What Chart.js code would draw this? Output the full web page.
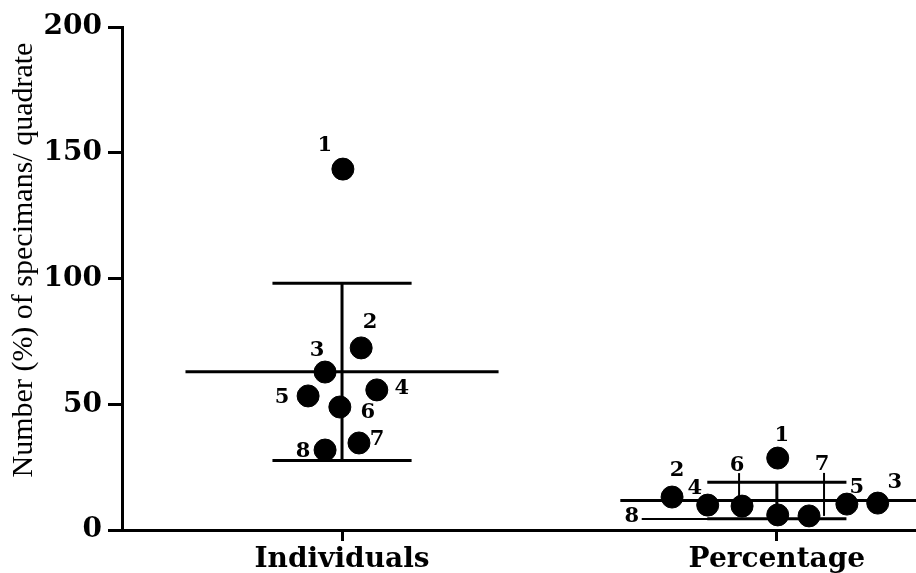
<!DOCTYPE html>
<html>
<head>
<meta charset="utf-8">
<script src="https://cdn.jsdelivr.net/npm/chart.js@4.4.1/dist/chart.umd.min.js"></script>
<style>
    html, body { margin: 0; padding: 0; background: #fff; }
    #wrap { width: 916px; height: 573px; position: relative; }
</style>
</head>
<body>
<div id="wrap"><canvas id="chart"></canvas></div>
<script>
// x categories
var categories = ['Individuals', 'Percentage'];
// the numbers written beside each dot
var pointIds = ['1', '2', '3', '4', '5', '6', '7', '8'];
// values (same order as pointIds)
var individuals = [143.5, 72.4, 62.8, 55.7, 53.3, 48.9, 34.6, 31.8];
var percentage = [28.6, 13.1, 10.7, 9.9, 10.3, 9.5, 5.6, 6.0];
var yTicks = [0, 50, 100, 150, 200];
var yTitle = 'Number (%) of specimans/ quadrate';

// sideways spread of the dots around their category (in category units)
var jitterInd = [0.002, 0.044, -0.039, 0.080, -0.078, -0.005, 0.039, -0.039];
var jitterPct = [0.002, -0.241, 0.232, -0.159, 0.161, -0.080, 0.074, 0.002];

// where each number sits relative to its dot, in px
var labelOffInd = [[-18, -24], [9, -25], [-8, -22], [25, -1], [-26, 2], [28, 6], [18, -3], [-22, 2]];
var labelOffPct = [[4, -23], [5, -27], [17, -21], [-13, -17], [10, -17], [-5, -41], [13, -51], [-146, 2]];
// leader lines used on the crowded Percentage column
var leadersPct = { 5: 'v', 6: 'v', 7: 'h' };

var SERIF = "'DejaVu Serif', 'Liberation Serif', serif";

function mean(arr) {
    var s = 0;
    for (var i = 0; i < arr.length; i++) s += arr[i];
    return s / arr.length;
}
function sd(arr) {
    var m = mean(arr), s = 0;
    for (var i = 0; i < arr.length; i++) s += (arr[i] - m) * (arr[i] - m);
    return Math.sqrt(s / (arr.length - 1));
}

function dots(values, jitter, catIndex) {
    return values.map(function (v, i) { return { x: catIndex + 1 + jitter[i], y: v }; });
}

function segment(x0, x1, y0, y1) {
    return {
        type: 'line',
        data: [{ x: x0, y: y0 }, { x: x1, y: y1 }],
        borderColor: '#000',
        borderWidth: 3,
        pointRadius: 0,
        showLine: true,
        fill: false
    };
}

var datasets = [
    { label: categories[0], data: dots(individuals, jitterInd, 0), backgroundColor: '#000', borderColor: '#000', pointRadius: 11, pointHoverRadius: 11 },
    { label: categories[1], data: dots(percentage, jitterPct, 1), backgroundColor: '#000', borderColor: '#000', pointRadius: 11, pointHoverRadius: 11 }
];

// mean line and SD bars for each column
[individuals, percentage].forEach(function (vals, k) {
    var c = k + 1, m = mean(vals), s = sd(vals);
    datasets.push(segment(c - 0.36, c + 0.36, m, m));
    datasets.push(segment(c - 0.16, c + 0.16, m + s, m + s));
    datasets.push(segment(c - 0.16, c + 0.16, m - s, m - s));
    datasets.push(segment(c, c, m - s, m + s));
});

// numbers next to the dots
var pointLabels = {
    id: 'pointLabels',
    afterDatasetsDraw: function (chart) {
        var ctx = chart.ctx;
        ctx.save();
        ctx.fillStyle = '#000';
        ctx.strokeStyle = '#000';
        ctx.lineWidth = 2;
        ctx.font = 'bold 21px ' + SERIF;
        ctx.textAlign = 'center';
        ctx.textBaseline = 'middle';
        [labelOffInd, labelOffPct].forEach(function (offs, d) {
            var meta = chart.getDatasetMeta(d);
            meta.data.forEach(function (pt, i) {
                var lx = pt.x + offs[i][0], ly = pt.y + offs[i][1];
                if (d === 1 && leadersPct[i] === 'v') {
                    ctx.beginPath();
                    ctx.moveTo(lx + 2, ly + 8);
                    ctx.lineTo(lx + 2, pt.y);
                    ctx.stroke();
                } else if (d === 1 && leadersPct[i] === 'h') {
                    ctx.beginPath();
                    ctx.moveTo(lx + 10, pt.y + 4);
                    ctx.lineTo(pt.x, pt.y + 4);
                    ctx.stroke();
                }
                ctx.fillText(pointIds[i], lx, ly);
            });
        });
        ctx.restore();
    }
};

// rotated y title
var yTitlePlugin = {
    id: 'yTitlePlugin',
    afterDraw: function (chart) {
        var ctx = chart.ctx;
        ctx.save();
        ctx.translate(24, 260);
        ctx.rotate(-Math.PI / 2);
        ctx.font = '30px "Liberation Serif", "Times New Roman", serif';
        ctx.fillStyle = '#000';
        ctx.textAlign = 'center';
        ctx.textBaseline = 'middle';
        ctx.fillText(yTitle, 0, 0);
        ctx.restore();
    }
};

var chart = new Chart(document.getElementById('chart'), {
    type: 'scatter',
    data: { datasets: datasets },
    options: {
        responsive: true,
        maintainAspectRatio: false,
        animation: false,
        events: [],
        layout: { autoPadding: false, padding: { top: 27, right: 0, left: 0, bottom: 0 } },
        plugins: {
            legend: { display: false },
            tooltip: { enabled: false }
        },
        scales: {
            x: {
                type: 'linear',
                min: 0.494,
                max: 2.32,
                afterBuildTicks: function (scale) {
                    scale.ticks = categories.map(function (c, i) { return { value: i + 1 }; });
                },
                afterFit: function (scale) {
                    scale.height = 43;
                    scale.paddingLeft = 0;
                    scale.paddingRight = 0;
                },
                border: { color: '#000', width: 3 },
                grid: { drawOnChartArea: false, drawTicks: true, tickLength: 11, tickColor: '#000', tickWidth: 3 },
                ticks: {
                    color: '#000',
                    padding: 2,
                    font: { family: SERIF, weight: 'bold', size: 28 },
                    callback: function (v) { return categories[v - 1]; }
                }
            },
            y: {
                min: 0,
                max: 200,
                afterBuildTicks: function (scale) {
                    scale.ticks = yTicks.map(function (v) { return { value: v }; });
                },
                afterFit: function (scale) { scale.width = 122; },
                border: { color: '#000', width: 3 },
                grid: { drawOnChartArea: false, drawTicks: true, tickLength: 14, tickColor: '#000', tickWidth: 3 },
                ticks: {
                    color: '#000',
                    padding: 6,
                    font: { family: SERIF, weight: 'bold', size: 28 }
                }
            }
        }
    },
    plugins: [pointLabels, yTitlePlugin]
});
</script>
</body>
</html>
